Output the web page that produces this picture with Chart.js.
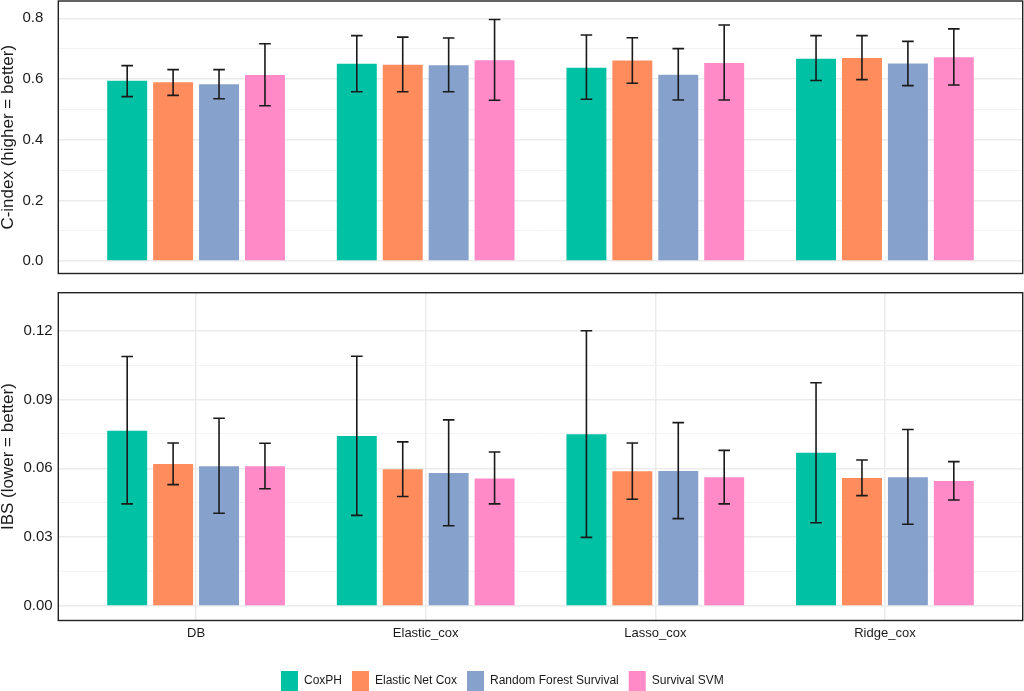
<!DOCTYPE html>
<html><head><meta charset="utf-8">
<script src="https://cdn.jsdelivr.net/npm/chart.js@4.4.1/dist/chart.umd.min.js"></script>
<style>
html,body{margin:0;padding:0;background:#fff;}
#wrap{position:relative;width:1024px;height:691px;overflow:hidden;background:#fff;}
#top{position:absolute;left:0;top:0;width:1024px;height:280px;}
#bot{position:absolute;left:0;top:280px;width:1024px;height:421px;}
</style></head><body>
<div id="wrap"><div id="top"><canvas id="c1"></canvas></div><div id="bot"><canvas id="c2"></canvas></div></div>
<script>
// ---- data ----
const categories = ['DB', 'Elastic_cox', 'Lasso_cox', 'Ridge_cox'];
const models = ['CoxPH', 'Elastic Net Cox', 'Random Forest Survival', 'Survival SVM'];
const modelColors = ['#00C1A3', '#FF8C5C', '#87A1CD', '#FF8AC7'];

// rows = models, columns = categories
const cindexMean = [
  [0.594, 0.650, 0.637, 0.667],
  [0.589, 0.647, 0.661, 0.669],
  [0.583, 0.645, 0.614, 0.651],
  [0.613, 0.662, 0.653, 0.672]
];
const cindexLow = [
  [0.542, 0.558, 0.533, 0.595],
  [0.546, 0.558, 0.586, 0.598],
  [0.535, 0.558, 0.531, 0.578],
  [0.512, 0.530, 0.531, 0.580]
];
const cindexHigh = [
  [0.644, 0.743, 0.745, 0.743],
  [0.631, 0.738, 0.736, 0.743],
  [0.631, 0.735, 0.700, 0.724],
  [0.716, 0.796, 0.778, 0.765]
];
const ibsMean = [
  [0.0764, 0.0741, 0.0748, 0.0668],
  [0.0619, 0.0596, 0.0587, 0.0558],
  [0.0609, 0.0580, 0.0588, 0.0561],
  [0.0609, 0.0556, 0.0561, 0.0545]
];
const ibsLow = [
  [0.0445, 0.0395, 0.0299, 0.0363],
  [0.0529, 0.0477, 0.0465, 0.0481],
  [0.0404, 0.0350, 0.0381, 0.0356],
  [0.0511, 0.0445, 0.0445, 0.0462]
];
const ibsHigh = [
  [0.1087, 0.1088, 0.1199, 0.0973],
  [0.0710, 0.0715, 0.0710, 0.0636],
  [0.0818, 0.0811, 0.0799, 0.0769],
  [0.0709, 0.0671, 0.0678, 0.0629]
];
const cindexTicks = [0.0, 0.2, 0.4, 0.6, 0.8];
const cindexMinorTicks = [0.1, 0.3, 0.5, 0.7];
const ibsTicks = [0.00, 0.03, 0.06, 0.09, 0.12];
const ibsMinorTicks = [0.015, 0.045, 0.075, 0.105];

// ---- helpers ----
const FONT = "'Liberation Sans', Arial, Helvetica, sans-serif";
const TXT = '#1a1a1a';
const isIn = (arr, v) => arr.some(a => Math.abs(a - v) < 1e-9);

const errorBarPlugin = {
  id: 'errorBars',
  afterDatasetsDraw(chart, args, opts) {
    const ctx = chart.ctx, ys = chart.scales.y;
    ctx.save();
    ctx.strokeStyle = '#1a1a1a';
    ctx.lineWidth = 1.6;
    chart.data.datasets.forEach((ds, d) => {
      const meta = chart.getDatasetMeta(d);
      meta.data.forEach((bar, i) => {
        const x = bar.x;
        const yh = ys.getPixelForValue(opts.high[d][i]);
        const yl = ys.getPixelForValue(opts.low[d][i]);
        const w = 5.8;
        ctx.beginPath();
        ctx.moveTo(x, yh); ctx.lineTo(x, yl);
        ctx.moveTo(x - w, yh); ctx.lineTo(x + w, yh);
        ctx.moveTo(x - w, yl); ctx.lineTo(x + w, yl);
        ctx.stroke();
      });
    });
    ctx.restore();
  }
};
const borderPlugin = {
  id: 'panelBorder',
  afterDraw(chart) {
    const a = chart.chartArea, ctx = chart.ctx;
    ctx.save();
    ctx.strokeStyle = '#222';
    ctx.lineWidth = 1.4;
    ctx.strokeRect(a.left, a.top, a.right - a.left, a.bottom - a.top);
    ctx.restore();
  }
};
const legendShift = {
  id: 'legendShift',
  afterLayout(chart) {
    if (chart.legend && chart.options.plugins.legend.display) {
      chart.legend.left -= 9; chart.legend.right -= 9;
    }
  }
};
const noPad = s => { s.paddingTop = 0; s.paddingBottom = 0; s.paddingLeft = 0; s.paddingRight = 0; };

function makeChart(canvasId, means, lows, highs, cfg) {
  const datasets = models.map((m, k) => ({
    label: m,
    data: categories.map((c, i) => ({ x: i, y: means[k][i] })),
    backgroundColor: modelColors[k],
    borderWidth: 0,
    categoryPercentage: 0.8,
    barPercentage: 0.87
  }));
  return new Chart(document.getElementById(canvasId), {
    type: 'bar',
    data: { datasets },
    options: {
      responsive: true,
      maintainAspectRatio: false,
      animation: false,
      layout: { padding: cfg.padding },
      plugins: {
        legend: cfg.legend,
        tooltip: { enabled: false },
        errorBars: { low: lows, high: highs }
      },
      scales: {
        x: {
          type: 'linear',
          min: -0.6, max: 3.6,
          offset: false,
          display: cfg.showX,
          afterBuildTicks: s => { s.ticks = categories.map((c, i) => ({ value: i })); },
          afterFit: s => { s.height = cfg.xHeight; noPad(s); },
          border: { display: false },
          grid: { offset: false, color: '#EBEBEB', lineWidth: 1.5, drawTicks: false },
          ticks: {
            autoSkip: false, maxRotation: 0, padding: 5,
            color: TXT, font: { family: FONT, size: 13 },
            callback: v => categories[Math.round(v)]
          }
        },
        y: {
          type: 'linear',
          min: cfg.yMin, max: cfg.yMax,
          afterBuildTicks: s => {
            s.ticks = cfg.major.concat(cfg.minor).sort((a, b) => a - b).map(v => ({ value: v }));
          },
          afterFit: s => { s.width = 58.3; noPad(s); },
          border: { display: false },
          grid: {
            drawTicks: false,
            color: c => isIn(cfg.major, c.tick.value) ? '#EBEBEB' : '#F3F3F3',
            lineWidth: c => isIn(cfg.major, c.tick.value) ? 1.5 : 1
          },
          ticks: {
            autoSkip: false, padding: cfg.tickPad,
            color: TXT, font: { family: FONT, size: 15 },
            callback: v => isIn(cfg.major, v) ? v.toFixed(cfg.decimals) : ''
          },
          title: {
            display: true, text: cfg.title, color: TXT,
            font: { family: FONT, size: 17, lineHeight: 1 },
            padding: { top: 0, bottom: 0 }
          }
        }
      }
    },
    plugins: [errorBarPlugin, borderPlugin, legendShift]
  });
}

makeChart('c1', cindexMean, cindexLow, cindexHigh, {
  padding: { top: 1, right: 1.3, bottom: 6.5, left: 0 },
  legend: { display: false },
  showX: false, xHeight: 0,
  yMin: -0.041, yMax: 0.857,
  major: cindexTicks, minor: cindexMinorTicks, decimals: 1,
  tickPad: 15, title: 'C-index (higher = better)'
});

makeChart('c2', ibsMean, ibsLow, ibsHigh, {
  padding: { top: 12.7, right: 1.3, bottom: 0, left: 0 },
  legend: {
    display: true, position: 'bottom',
    labels: {
      boxWidth: 17, boxHeight: 20, padding: 10,
      color: TXT, font: { family: FONT, size: 12 }
    }
  },
  showX: true, xHeight: 40.5,
  yMin: -0.0063, yMax: 0.1365,
  major: ibsTicks, minor: ibsMinorTicks, decimals: 2,
  tickPad: 5.6, title: 'IBS (lower = better)'
});
</script>
</body></html>
